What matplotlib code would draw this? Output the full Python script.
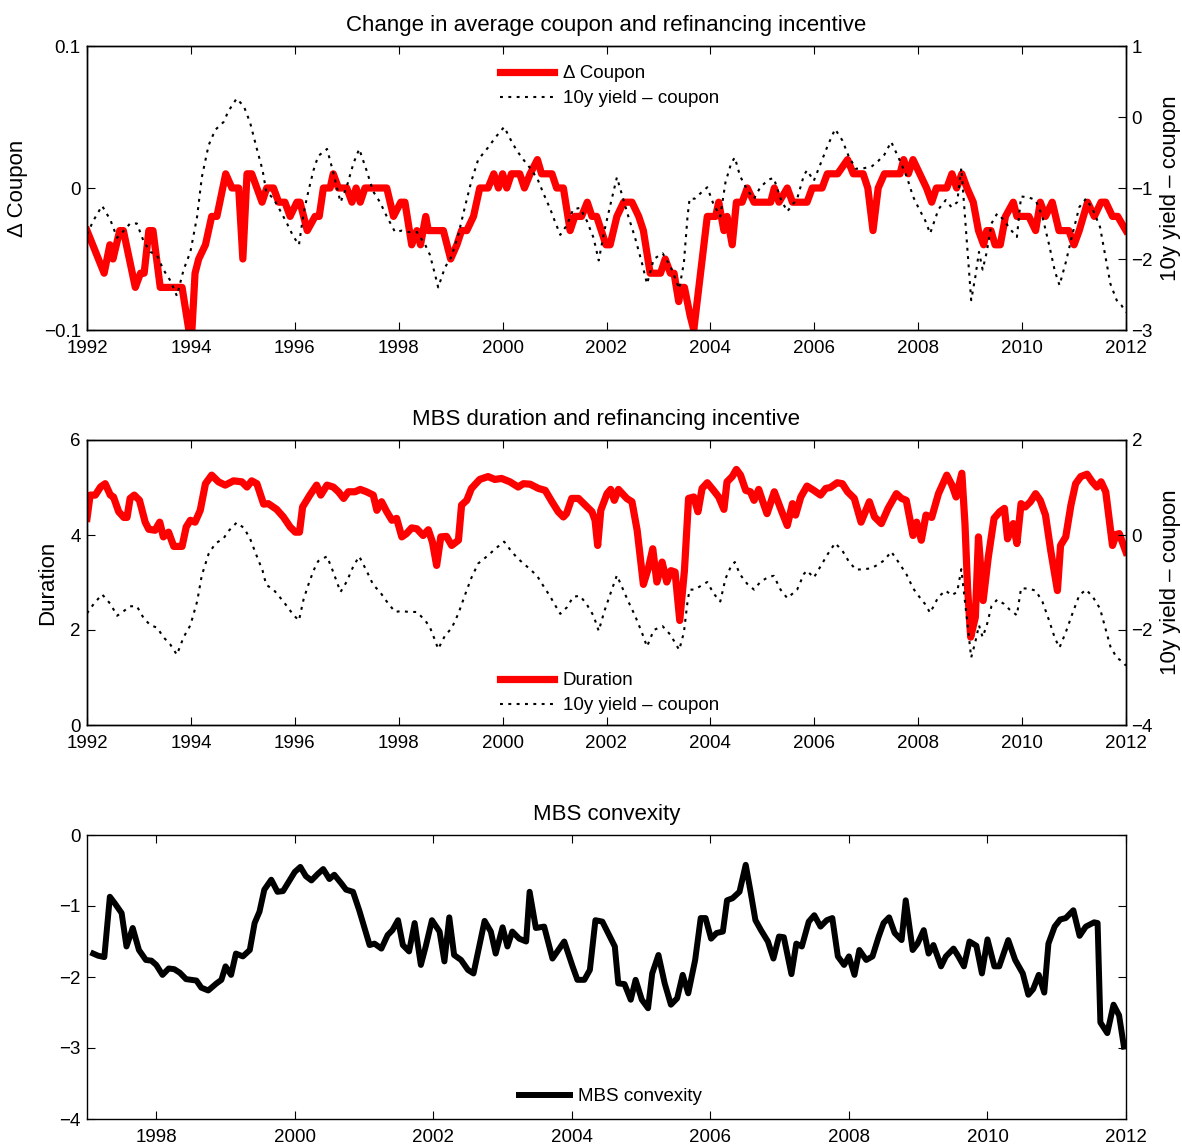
import matplotlib
matplotlib.use('Agg')
import matplotlib.pyplot as plt
import numpy as np

plt.rcParams['font.family'] = ['Liberation Sans', 'DejaVu Sans']
plt.rcParams['axes.linewidth'] = 1.0

# ---- data (year, value) ----
coupon_t = [1992.0, 1992.33, 1992.44, 1992.5, 1992.63, 1992.7, 1992.93, 1993.03, 1993.1, 1993.19, 1993.27,
            1993.41, 1993.83, 1993.96, 1994.02, 1994.08, 1994.15, 1994.28, 1994.4, 1994.5, 1994.67, 1994.79,
            1994.92, 1995.0, 1995.08, 1995.17, 1995.27, 1995.37, 1995.46, 1995.59, 1995.69, 1995.81, 1995.91,
            1996.04, 1996.1, 1996.24, 1996.39, 1996.47, 1996.55, 1996.68, 1996.74, 1996.84, 1997.0, 1997.1,
            1997.18, 1997.26, 1997.35, 1997.77, 1997.9, 1998.04, 1998.12, 1998.25, 1998.35, 1998.42, 1998.52,
            1998.57, 1998.86, 1999.0, 1999.12, 1999.21, 1999.31, 1999.44, 1999.56, 1999.72, 1999.83, 1999.92,
            2000.0, 2000.08, 2000.17, 2000.33, 2000.42, 2000.53, 2000.67, 2000.75, 2000.95, 2001.04, 2001.17,
            2001.3, 2001.39, 2001.52, 2001.63, 2001.72, 2001.81, 2001.99, 2002.07, 2002.2, 2002.33, 2002.49,
            2002.62, 2002.71, 2002.84, 2003.04, 2003.13, 2003.23, 2003.3, 2003.39, 2003.43, 2003.5, 2003.61,
            2003.68, 2003.94, 2004.1, 2004.16, 2004.26, 2004.32, 2004.42, 2004.5, 2004.61, 2004.71, 2004.84,
            2005.16, 2005.23, 2005.32, 2005.48, 2005.58, 2005.86, 2005.96, 2006.15, 2006.25, 2006.45, 2006.64,
            2006.75, 2006.94, 2007.03, 2007.13, 2007.23, 2007.35, 2007.65, 2007.72, 2007.81, 2007.9, 2008.03,
            2008.16, 2008.26, 2008.35, 2008.55, 2008.65, 2008.74, 2008.84, 2008.94, 2009.06, 2009.16, 2009.26,
            2009.32, 2009.4, 2009.48, 2009.58, 2009.68, 2009.83, 2009.9, 2010.13, 2010.26, 2010.35, 2010.45,
            2010.58, 2010.71, 2010.9, 2011.0, 2011.1, 2011.26, 2011.39, 2011.52, 2011.61, 2011.74, 2011.84,
            2012.0]
coupon_v = [-0.03, -0.06, -0.04, -0.05, -0.03, -0.03, -0.07, -0.06, -0.06, -0.03, -0.03,
            -0.07, -0.07, -0.10, -0.10, -0.06, -0.05, -0.04, -0.02, -0.02, 0.01, 0.0,
            0.0, -0.05, 0.01, 0.01, 0.0, -0.01, 0.0, 0.0, -0.01, -0.01, -0.02,
            -0.01, -0.01, -0.03, -0.02, -0.02, 0.0, 0.0, 0.01, 0.0, 0.0, -0.01,
            0.0, -0.01, 0.0, 0.0, -0.02, -0.01, -0.01, -0.04, -0.03, -0.04, -0.02,
            -0.03, -0.03, -0.05, -0.04, -0.03, -0.03, -0.02, 0.0, 0.0, 0.01, 0.0,
            0.01, 0.0, 0.01, 0.01, 0.0, 0.01, 0.02, 0.01, 0.01, 0.0, 0.0,
            -0.03, -0.02, -0.02, -0.01, -0.02, -0.02, -0.04, -0.04, -0.02, -0.01, -0.01,
            -0.02, -0.03, -0.06, -0.06, -0.05, -0.06, -0.06, -0.08, -0.07, -0.07, -0.09,
            -0.10, -0.02, -0.02, -0.01, -0.03, -0.02, -0.04, -0.01, -0.01, 0.0, -0.01,
            -0.01, 0.0, -0.01, 0.0, -0.01, -0.01, 0.0, 0.0, 0.01, 0.01, 0.02,
            0.01, 0.01, 0.0, -0.03, 0.0, 0.01, 0.01, 0.02, 0.01, 0.02, 0.01,
            0.0, -0.01, 0.0, 0.0, 0.01, 0.0, 0.01, 0.0, -0.01, -0.03, -0.04,
            -0.03, -0.03, -0.04, -0.04, -0.02, -0.01, -0.02, -0.02, -0.03, -0.01, -0.02,
            -0.01, -0.03, -0.03, -0.04, -0.03, -0.01, -0.02, -0.01, -0.01, -0.02, -0.02,
            -0.03]

incent_t = [1992.0, 1992.13, 1992.29, 1992.45, 1992.58, 1992.71, 1992.83, 1992.96, 1993.09, 1993.22, 1993.35,
            1993.47, 1993.6, 1993.73, 1993.86, 1993.99, 1994.12, 1994.21, 1994.34, 1994.47, 1994.63, 1994.72,
            1994.88, 1995.02, 1995.14, 1995.27, 1995.38, 1995.45, 1995.59, 1995.72, 1995.85, 1995.97, 1996.08,
            1996.17, 1996.26, 1996.36, 1996.45, 1996.62, 1996.74, 1996.88, 1997.0, 1997.13, 1997.24, 1997.38,
            1997.51, 1997.64, 1997.77, 1997.93, 1998.06, 1998.19, 1998.35, 1998.51, 1998.6, 1998.7, 1998.76,
            1998.89, 1999.02, 1999.15, 1999.28, 1999.4, 1999.53, 1999.72, 1999.87, 2000.03, 2000.14, 2000.27,
            2000.4, 2000.53, 2000.67, 2000.8, 2000.92, 2000.98, 2001.11, 2001.24, 2001.36, 2001.49, 2001.62,
            2001.75, 2001.85, 2001.96, 2002.08, 2002.2, 2002.3, 2002.42, 2002.55, 2002.68, 2002.78, 2002.91,
            2003.08, 2003.23, 2003.4, 2003.49, 2003.56, 2003.6, 2003.7, 2003.83, 2003.94, 2004.06, 2004.19,
            2004.29, 2004.4, 2004.47, 2004.57, 2004.71, 2004.84, 2004.96, 2005.12, 2005.22, 2005.35, 2005.48,
            2005.67, 2005.8, 2005.86, 2005.99, 2006.12, 2006.26, 2006.4, 2006.54, 2006.66, 2006.8, 2006.96,
            2007.1, 2007.23, 2007.35, 2007.48, 2007.62, 2007.78, 2007.9, 2008.02, 2008.13, 2008.23, 2008.39,
            2008.53, 2008.64, 2008.75, 2008.83, 2008.89, 2008.96, 2009.02, 2009.1, 2009.17, 2009.24, 2009.32,
            2009.41, 2009.52, 2009.65, 2009.76, 2009.9, 2009.98, 2010.12, 2010.26, 2010.39, 2010.52, 2010.63,
            2010.72, 2010.84, 2010.97, 2011.1, 2011.23, 2011.36, 2011.5, 2011.6, 2011.7, 2011.82, 2011.91,
            2012.0]
incent_v = [-1.65, -1.45, -1.25, -1.45, -1.7, -1.6, -1.5, -1.5, -1.75, -1.9, -1.95,
            -2.15, -2.3, -2.52, -2.15, -1.9, -1.4, -0.85, -0.4, -0.18, -0.07, 0.08,
            0.26, 0.15, -0.08, -0.45, -0.75, -1.05, -1.15, -1.32, -1.5, -1.68, -1.8,
            -1.35, -1.05, -0.75, -0.55, -0.45, -0.78, -1.2, -0.98, -0.65, -0.45, -0.75,
            -1.05, -1.2, -1.4, -1.62, -1.6, -1.62, -1.62, -1.8, -1.94, -2.22, -2.4,
            -2.12, -1.96, -1.65, -1.25, -0.9, -0.6, -0.43, -0.28, -0.14, -0.3, -0.47,
            -0.6, -0.72, -0.87, -1.1, -1.3, -1.42, -1.66, -1.52, -1.3, -1.28, -1.46,
            -1.7, -2.02, -1.6, -1.22, -0.85, -1.1, -1.4, -1.7, -2.05, -2.35, -2.0,
            -1.92, -2.1, -2.42, -2.05, -1.4, -1.15, -1.15, -1.06, -0.99, -1.23, -1.4,
            -0.92, -0.65, -0.57, -0.83, -1.03, -1.15, -0.99, -0.88, -0.86, -1.15, -1.33,
            -1.15, -0.82, -0.75, -0.9, -0.66, -0.4, -0.17, -0.33, -0.55, -0.73, -0.72,
            -0.7, -0.62, -0.53, -0.35, -0.57, -0.84, -1.12, -1.3, -1.45, -1.64, -1.3,
            -1.17, -1.27, -1.2, -0.72, -1.3, -2.0, -2.58, -2.25, -1.9, -2.15, -1.9,
            -1.5, -1.36, -1.45, -1.57, -1.69, -1.12, -1.13, -1.17, -1.4, -1.8, -2.17,
            -2.37, -2.05, -1.65, -1.27, -1.15, -1.3, -1.55, -1.95, -2.35, -2.58, -2.65,
            -2.75]

dur_t = [1992.0, 1992.06, 1992.16, 1992.26, 1992.35, 1992.45, 1992.51, 1992.61, 1992.71, 1992.77, 1992.83,
         1992.91, 1993.01, 1993.12, 1993.19, 1993.31, 1993.4, 1993.47, 1993.57, 1993.67, 1993.83, 1993.91,
         1993.99, 1994.08, 1994.18, 1994.28, 1994.4, 1994.53, 1994.66, 1994.82, 1994.98, 1995.08, 1995.17,
         1995.27, 1995.4, 1995.49, 1995.65, 1995.78, 1995.91, 1996.01, 1996.09, 1996.15, 1996.29, 1996.42,
         1996.5, 1996.62, 1996.74, 1996.84, 1996.94, 1997.03, 1997.16, 1997.26, 1997.38, 1997.51, 1997.58,
         1997.67, 1997.77, 1997.87, 1997.96, 1998.06, 1998.15, 1998.25, 1998.35, 1998.47, 1998.57, 1998.65,
         1998.73, 1998.81, 1998.92, 1999.02, 1999.15, 1999.21, 1999.31, 1999.4, 1999.56, 1999.72, 1999.85,
         1999.98, 2000.14, 2000.3, 2000.4, 2000.53, 2000.69, 2000.82, 2000.95, 2001.07, 2001.17, 2001.23,
         2001.33, 2001.46, 2001.59, 2001.72, 2001.78, 2001.83, 2001.89, 2002.01, 2002.08, 2002.15, 2002.23,
         2002.39, 2002.49, 2002.59, 2002.71, 2002.81, 2002.89, 2002.97, 2003.07, 2003.16, 2003.24, 2003.32,
         2003.41, 2003.5, 2003.58, 2003.68, 2003.76, 2003.84, 2003.94, 2004.06, 2004.16, 2004.26, 2004.32,
         2004.42, 2004.5, 2004.58, 2004.68, 2004.77, 2004.84, 2004.93, 2005.0, 2005.09, 2005.23, 2005.35,
         2005.48, 2005.58, 2005.64, 2005.74, 2005.86, 2005.99, 2006.12, 2006.22, 2006.31, 2006.44, 2006.54,
         2006.64, 2006.77, 2006.9, 2007.06, 2007.16, 2007.29, 2007.42, 2007.58, 2007.68, 2007.77, 2007.9,
         2007.97, 2008.06, 2008.15, 2008.26, 2008.39, 2008.55, 2008.65, 2008.73, 2008.84, 2008.9, 2008.95,
         2009.01, 2009.1, 2009.16, 2009.25, 2009.35, 2009.46, 2009.57, 2009.66, 2009.72, 2009.83, 2009.9,
         2009.98, 2010.06, 2010.16, 2010.26, 2010.35, 2010.45, 2010.55, 2010.68, 2010.74, 2010.84, 2010.94,
         2011.03, 2011.13, 2011.25, 2011.35, 2011.44, 2011.52, 2011.61, 2011.74, 2011.81, 2011.87, 2012.0]
dur_v = [4.35, 4.84, 4.84, 5.01, 5.08, 4.84, 4.8, 4.49, 4.37, 4.37, 4.77,
         4.84, 4.73, 4.27, 4.12, 4.1, 4.27, 3.96, 4.06, 3.76, 3.76, 4.17,
         4.31, 4.27, 4.52, 5.08, 5.26, 5.12, 5.05, 5.14, 5.12, 5.01, 5.14,
         5.08, 4.65, 4.66, 4.54, 4.38, 4.17, 4.06, 4.06, 4.59, 4.84, 5.05,
         4.84, 5.05, 5.01, 4.91, 4.77, 4.91, 4.91, 4.96, 4.91, 4.84, 4.52,
         4.7, 4.49, 4.31, 4.35, 3.96, 4.03, 4.15, 4.13, 3.99, 4.11, 3.85,
         3.36, 3.96, 3.97, 3.78, 3.89, 4.63, 4.73, 4.98, 5.17, 5.23, 5.17,
         5.19, 5.12, 5.01, 5.08, 5.07, 4.98, 4.94, 4.7, 4.49, 4.38, 4.45,
         4.77, 4.77, 4.63, 4.49, 4.31, 3.78, 4.52, 4.87, 4.96, 4.73, 4.96,
         4.77, 4.7, 4.1, 2.96, 3.32, 3.71, 3.01, 3.43, 3.01, 3.25, 3.22,
         2.2, 3.25, 4.77, 4.8, 4.49, 4.98, 5.1, 4.94, 4.8, 4.54, 5.12,
         5.23, 5.38, 5.26, 4.94, 4.91, 4.73, 4.96, 4.73, 4.45, 4.91, 4.56,
         4.2, 4.66, 4.42, 4.8, 5.03, 4.94, 4.84, 4.98, 5.0, 5.1, 5.08,
         4.91, 4.77, 4.27, 4.7, 4.38, 4.24, 4.56, 4.87, 4.77, 4.73, 3.99,
         4.27, 3.89, 4.42, 4.37, 4.87, 5.26, 5.05, 4.8, 5.3, 4.24, 2.9,
         1.85, 2.27, 3.96, 2.62, 3.54, 4.35, 4.49, 4.56, 3.92, 4.24, 3.82,
         4.66, 4.59, 4.7, 4.87, 4.73, 4.42, 3.68, 2.83, 3.78, 3.96, 4.63,
         5.08, 5.23, 5.28, 5.12, 5.01, 5.12, 4.91, 3.78, 4.01, 4.03, 3.64]

convex_t = [1997.09, 1997.16, 1997.25, 1997.33, 1997.4, 1997.5, 1997.57, 1997.66, 1997.75, 1997.85, 1997.93,
            1998.0, 1998.09, 1998.18, 1998.26, 1998.34, 1998.43, 1998.58, 1998.65, 1998.75, 1998.87, 1998.94,
            1999.0, 1999.08, 1999.15, 1999.25, 1999.35, 1999.42, 1999.49, 1999.56, 1999.66, 1999.75, 1999.83,
            1999.9, 2000.0, 2000.08, 2000.16, 2000.24, 2000.33, 2000.41, 2000.5, 2000.57, 2000.67, 2000.74,
            2000.84, 2000.93, 2001.08, 2001.15, 2001.25, 2001.34, 2001.41, 2001.49, 2001.56, 2001.65, 2001.73,
            2001.82, 2001.89, 2001.98, 2002.09, 2002.16, 2002.23, 2002.3, 2002.4, 2002.5, 2002.58, 2002.74,
            2002.83, 2002.9, 2003.0, 2003.07, 2003.14, 2003.24, 2003.34, 2003.39, 2003.48, 2003.6, 2003.72,
            2003.82, 2003.89, 2004.01, 2004.08, 2004.18, 2004.26, 2004.34, 2004.44, 2004.62, 2004.67, 2004.76,
            2004.85, 2004.92, 2005.01, 2005.1, 2005.16, 2005.25, 2005.34, 2005.43, 2005.52, 2005.6, 2005.68,
            2005.78, 2005.86, 2005.93, 2006.01, 2006.09, 2006.18, 2006.24, 2006.32, 2006.42, 2006.51, 2006.58,
            2006.65, 2006.73, 2006.83, 2006.91, 2006.99, 2007.06, 2007.17, 2007.24, 2007.32, 2007.42, 2007.5,
            2007.59, 2007.68, 2007.76, 2007.84, 2007.93, 2008.0, 2008.08, 2008.15, 2008.25, 2008.34, 2008.43,
            2008.5, 2008.58, 2008.66, 2008.76, 2008.82, 2008.92, 2008.99, 2009.08, 2009.15, 2009.22, 2009.33,
            2009.4, 2009.51, 2009.58, 2009.66, 2009.74, 2009.84, 2009.92, 2010.0, 2010.1, 2010.17, 2010.3,
            2010.4, 2010.51, 2010.59, 2010.66, 2010.74, 2010.82, 2010.88, 2010.97, 2011.05, 2011.13, 2011.24,
            2011.33, 2011.42, 2011.54, 2011.59, 2011.63, 2011.73, 2011.82, 2011.9, 2011.97]
convex_v = [-1.67, -1.7, -1.72, -0.87, -0.96, -1.1, -1.57, -1.31, -1.62, -1.76, -1.77,
            -1.83, -1.97, -1.88, -1.89, -1.94, -2.03, -2.05, -2.15, -2.19, -2.09, -2.04,
            -1.85, -1.97, -1.67, -1.71, -1.62, -1.24, -1.08, -0.77, -0.63, -0.8, -0.79,
            -0.68, -0.52, -0.45, -0.58, -0.64, -0.55, -0.48, -0.62, -0.56, -0.68, -0.77,
            -0.8, -1.06, -1.55, -1.53, -1.6, -1.41, -1.34, -1.2, -1.55, -1.64, -1.24,
            -1.83, -1.57, -1.2, -1.36, -1.78, -1.16, -1.69, -1.76, -1.9, -1.95, -1.21,
            -1.36, -1.67, -1.3, -1.57, -1.36, -1.46, -1.5, -0.8, -1.31, -1.29, -1.74,
            -1.6, -1.5, -1.85, -2.04, -2.04, -1.9, -1.2, -1.22, -1.57, -2.09, -2.1,
            -2.32, -2.04, -2.32, -2.44, -1.95, -1.69, -2.09, -2.39, -2.3, -1.97, -2.23,
            -1.76, -1.17, -1.17, -1.46, -1.38, -1.36, -0.92, -0.89, -0.8, -0.42, -0.8,
            -1.2, -1.34, -1.5, -1.74, -1.43, -1.44, -1.96, -1.53, -1.57, -1.22, -1.13,
            -1.29, -1.2, -1.17, -1.71, -1.83, -1.71, -1.97, -1.62, -1.76, -1.71, -1.43,
            -1.24, -1.16, -1.38, -1.48, -0.92, -1.62, -1.53, -1.34, -1.67, -1.55, -1.85,
            -1.71, -1.6, -1.71, -1.85, -1.5, -1.56, -1.95, -1.47, -1.85, -1.85, -1.48,
            -1.76, -1.95, -2.25, -2.17, -1.97, -2.22, -1.53, -1.29, -1.19, -1.17, -1.06,
            -1.42, -1.29, -1.23, -1.24, -2.64, -2.79, -2.39, -2.54, -2.98]

W, H = 1182, 1147
fig = plt.figure(figsize=(W / 100, H / 100), dpi=100)

def px_axes(left, top, right, bottom):
    return fig.add_axes([left / W, 1 - bottom / H, (right - left) / W, (bottom - top) / H])

TICK = 13.5
LAB = 16
RED = '#ff0000'

def style(ax, left=True, right=False):
    ax.tick_params(axis='y', direction='in', length=6, width=0.8, labelsize=TICK,
                   left=left, right=right, labelleft=left, labelright=right, pad=4.5)
    ax.tick_params(axis='x', direction='in', length=6, width=0.8, labelsize=TICK,
                   top=True, pad=7.5)

def leg(ax, handles, labels, x, y, hl):
    ax.legend(handles, labels, loc='upper left', bbox_to_anchor=(x / W, 1 - y / H),
              bbox_transform=fig.transFigure, frameon=False, fontsize=TICK,
              handlelength=hl, handletextpad=0.45, borderpad=0, borderaxespad=0,
              labelspacing=0.42)

dot_style = dict(color='black', lw=1.5, ls=(0, (1.4, 2.6)))

# ---- panel 1 ----
ax1 = px_axes(87, 46, 1126, 330)
l1, = ax1.plot(coupon_t, coupon_v, color=RED, lw=5.2, label='\u0394 Coupon')
ax1.set_xlim(1992, 2012)
ax1.set_ylim(-0.1, 0.1)
ax1.set_yticks([-0.1, 0, 0.1])
ax1.set_yticklabels(['\u22120.1', '0', '0.1'])
ax1.set_xticks(np.arange(1992, 2013, 2))
style(ax1)
ax1.set_ylabel('\u0394 Coupon', fontsize=LAB, labelpad=11)
ax1.set_title('Change in average coupon and refinancing incentive', fontsize=LAB, pad=11)
ax1b = ax1.twinx()
l2, = ax1b.plot(incent_t, incent_v, **dot_style, label='10y yield \u2013 coupon')
ax1b.set_ylim(-3, 1)
ax1b.set_yticks([-3, -2, -1, 0, 1])
ax1b.tick_params(direction='in', length=6, width=0.8, labelsize=TICK, pad=4)
ax1b.set_ylabel('10y yield \u2013 coupon', fontsize=LAB, labelpad=5)
leg(ax1b, [l1, l2], [l1.get_label(), l2.get_label()], 500, 65, 2.9)

# ---- panel 2 ----
ax2 = px_axes(87, 440, 1126, 725)
l3, = ax2.plot(dur_t, dur_v, color=RED, lw=5.2, label='Duration')
ax2.set_xlim(1992, 2012)
ax2.set_ylim(0, 6)
ax2.set_yticks([0, 2, 4, 6])
ax2.set_xticks(np.arange(1992, 2013, 2))
style(ax2)
ax2.set_ylabel('Duration', fontsize=LAB, labelpad=9)
ax2.set_title('MBS duration and refinancing incentive', fontsize=LAB, pad=11)
ax2b = ax2.twinx()
l4, = ax2b.plot(incent_t, incent_v, **dot_style, label='10y yield \u2013 coupon')
ax2b.set_ylim(-4, 2)
ax2b.set_yticks([-4, -2, 0, 2])
ax2b.tick_params(direction='in', length=6, width=0.8, labelsize=TICK, pad=4)
ax2b.set_ylabel('10y yield \u2013 coupon', fontsize=LAB, labelpad=5)
leg(ax2b, [l3, l4], [l3.get_label(), l4.get_label()], 500, 672, 2.9)

# ---- panel 3 ----
ax3 = px_axes(87, 835, 1126, 1119)
l5, = ax3.plot(convex_t, convex_v, color='black', lw=4.3, label='MBS convexity')
ax3.set_xlim(1997, 2012)
ax3.set_ylim(-4, 0)
ax3.set_yticks([-4, -3, -2, -1, 0])
ax3.set_xticks(np.arange(1998, 2013, 2))
ax3.tick_params(axis='y', direction='in', length=6, width=0.8, labelsize=TICK, right=True, pad=4.5)
ax3.tick_params(axis='x', direction='in', length=6, width=0.8, labelsize=TICK, top=True, pad=7.5)
ax3.set_title('MBS convexity', fontsize=LAB, pad=11)
leg(ax3, [l5], [l5.get_label()], 519, 1088, 2.7)

fig.savefig('out.png', dpi=100)
